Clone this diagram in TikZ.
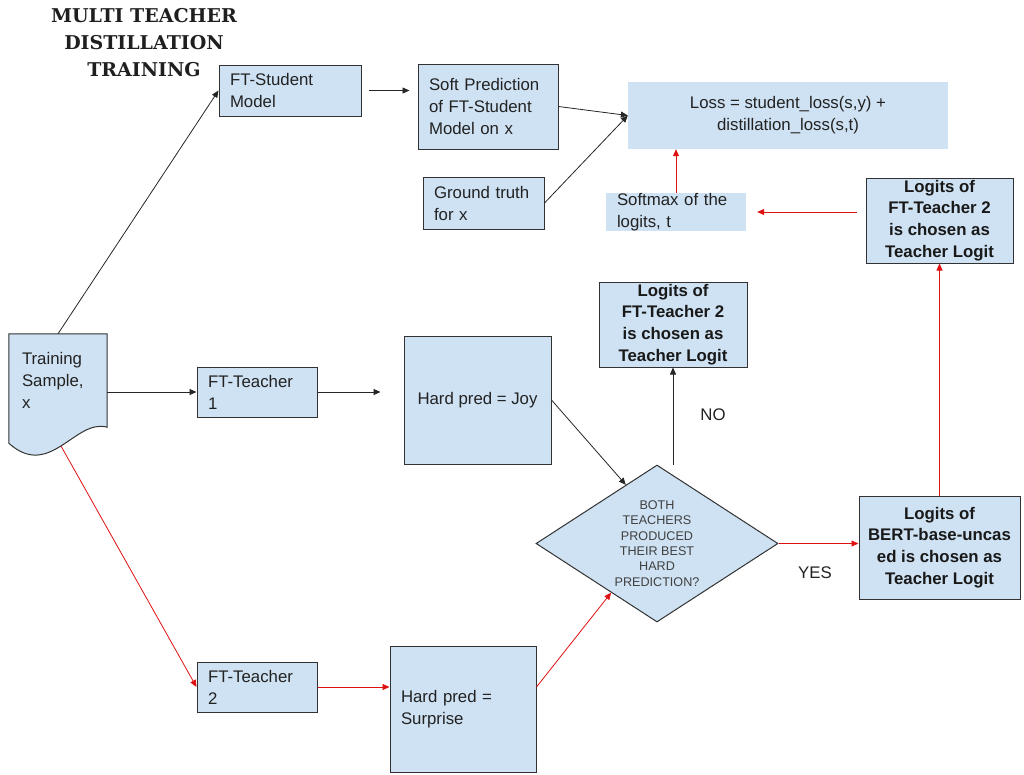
\documentclass[tikz,border=0pt]{standalone}
\usepackage{fontspec}
\setmainfont{Liberation Sans}
\newfontfamily\titlefont{DejaVu Serif}
\usetikzlibrary{shapes.geometric,arrows.meta,calc}
\definecolor{boxblue}{RGB}{207,226,243}
\definecolor{edgec}{RGB}{50,50,50}
\definecolor{txt}{RGB}{34,34,34}
\definecolor{redarr}{RGB}{224,17,17}
\pgfdeclarelayer{bg}
\pgfsetlayers{bg,main}
\begin{document}
\begin{tikzpicture}[x=1pt,y=-1pt,
  every node/.style={text=txt, font=\fontsize{16.8}{22}\selectfont},
  box/.style={draw=edgec, line width=1pt, fill=boxblue, rectangle, inner xsep=11pt, inner ysep=0pt, align=left},
  flat/.style={fill=boxblue, rectangle, inner xsep=11pt, inner ysep=0pt, align=left},
  boldbox/.style={draw=edgec, line width=1pt, fill=boxblue, rectangle, inner sep=0pt, align=center,
    font=\fontsize{16.8}{21.7}\selectfont\bfseries, text=black!90},
  arr/.style={draw=black!85, line width=0.8pt, -{Triangle[length=7pt,width=6pt]}},
  rarr/.style={draw=redarr, line width=0.8pt, -{Triangle[length=7pt,width=6pt]}},
  lbl/.style={font=\fontsize{16.8}{22}\selectfont}
]
\useasboundingbox (0,0) rectangle (1024,774);

% title
\node[font=\titlefont\bfseries\fontsize{19}{27}\selectfont, align=center, text=black!88] (title) at (144,43) {MULTI TEACHER\\DISTILLATION\\TRAINING};

% top row
\node[box, text width=120pt, minimum height=51pt] (fts) at (290,90.5) {FT-Student\\Model};
\node[box, text width=118pt, minimum height=85pt] (soft) at (488,106.5) {Soft Prediction\\of FT-Student\\Model on x};
\node[box, text width=99pt, minimum height=52pt] (gt) at (483.5,203) {Ground truth\\for x};
\node[fill=boxblue, inner sep=0pt, minimum width=320pt, minimum height=67pt, align=center] (loss) at (788,115.5) {Loss = student\_loss(s,y) +\\distillation\_loss(s,t)};
\node[flat, text width=118pt, minimum height=38pt] (smx) at (676,212) {Softmax of the\\logits, t};
\node[boldbox, minimum width=147pt, minimum height=85pt] (lt2) at (939.5,220.5) {Logits of\\FT-Teacher 2\\is chosen as\\Teacher Logit};

% training sample (document shape)
\node[inner xsep=13pt, inner ysep=0pt, text width=72pt, minimum height=93pt, align=left] (ts) at (58,380.5) {Training\\Sample,\\x};
\begin{pgfonlayer}{bg}
\draw[draw=edgec, line width=1pt, fill=boxblue] (ts.north west) -- (ts.north east) -- (ts.south east)
  .. controls +(-32,-9) and +(41,37) .. ($(ts.south west)+(0,16)$) -- cycle;
\end{pgfonlayer}
\coordinate (tsb) at (61,446);

% middle row
\node[box, text width=98pt, minimum height=50pt] (ft1) at (257,392) {FT-Teacher\\1};
\node[box, align=center, inner sep=0pt, minimum width=147pt, minimum height=128pt] (joy) at (477.5,400) {Hard pred = Joy};
\node[boldbox, minimum width=148pt, minimum height=85pt] (no) at (673,324.5) {Logits of\\FT-Teacher 2\\is chosen as\\Teacher Logit};
\node[diamond, draw=edgec, line width=1pt, fill=boxblue, aspect=1.54, minimum width=242pt, minimum height=157pt,
  inner sep=0pt, align=center, font=\fontsize{12.6}{15.3}\selectfont, text=black!75] (dia) at (657,543.5)
  {BOTH\\TEACHERS\\PRODUCED\\THEIR BEST\\HARD\\PREDICTION?};
\node[boldbox, minimum width=161pt, minimum height=103pt] (bert) at (939.5,547.5) {Logits of\\BERT-base-uncas\\ed is chosen as\\Teacher Logit};
\node[lbl] (nolbl) at (713,415) {NO};
\node[lbl] (yeslbl) at (815,573) {YES};

% bottom row
\node[box, text width=98pt, minimum height=50pt] (ft2) at (257,687) {FT-Teacher\\2};
\node[box, text width=124pt, minimum height=126pt] (sur) at (463,709) {Hard pred =\\Surprise};

% connectors
\draw[arr] (ts.north) -- (fts.west);
\draw[arr, shorten <=7pt, shorten >=8pt] (fts.east) -- (fts.east -| soft.west);
\draw[arr] (soft.east) -- (loss.west);
\draw[arr] (gt.east) -- (loss.west);
\draw[rarr] (smx.north) -- (smx.north |- loss.south);
\draw[rarr, shorten <=9pt, shorten >=11pt] (lt2.west |- smx.east) -- (smx.east);
\draw[arr] (ts.east |- ft1.west) -- (ft1.west);
\draw[arr, shorten >=23pt] (ft1.east) -- (ft1.east -| joy.west);
\draw[arr] (joy.east) -- (dia.118);
\draw[rarr] (tsb) -- (ft2.west);
\draw[rarr] (ft2.east) -- (ft2.east -| sur.west);
\draw[rarr] (sur.east |- ft2.east) -- (dia.227);
\draw[arr] (dia.north -| no.south) -- (no.south);
\draw[rarr] (dia.east) -- (dia.east -| bert.west);
\draw[rarr] (bert.north) -- (lt2.south);
\end{tikzpicture}
\end{document}
